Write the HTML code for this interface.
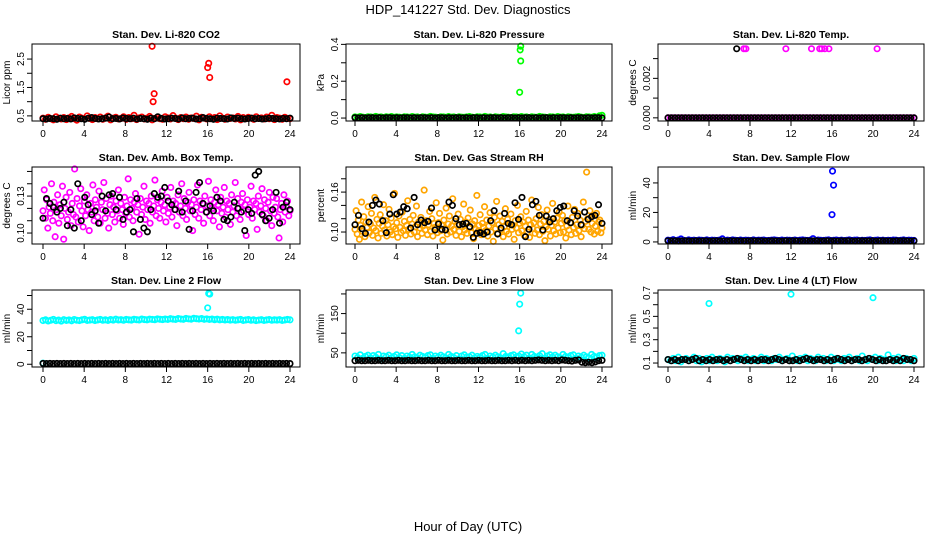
<!DOCTYPE html>
<html><head><meta charset="utf-8"><style>
body{margin:0;background:#fff}
svg{display:block;font-family:"Liberation Sans",sans-serif}
</style></head><body>
<svg id="chart" width="936" height="540" viewBox="0 0 936 540" xmlns="http://www.w3.org/2000/svg">
<text x="468" y="14" text-anchor="middle" font-size="13">HDP_141227  Std. Dev. Diagnostics</text>
<text x="468" y="531" text-anchor="middle" font-size="13">Hour of Day (UTC)</text>
</svg>
<script>
// ---- data ----
const xTicks = [0,4,8,12,16,20,24];
// P1 CO2
const co2Red = [0.42,0.38,0.45,0.40,0.36,0.47,0.41,0.39,0.44,0.37,0.43,0.48,0.40,0.35,0.46,0.42,0.39,0.50,0.41,0.37,0.44,0.40,0.46,0.38,0.43,0.49,0.36,0.42,0.45,0.39,0.41,0.47,0.38,0.44,0.40,0.52,0.37,0.43,0.46,0.39,0.42,0.48,0.36,0.41,0.45,0.40,0.38,0.47,0.43,0.39,0.51,0.42,0.37,0.44,0.40,0.46,0.38,0.43,0.41,0.49,0.36,0.45,0.42,0.39,0.47,0.40,0.44,0.37,0.50,0.42,0.38,0.46,0.41,0.43,0.39,0.48,0.36,0.44,0.40,0.45,0.42,0.38,0.47,0.41,0.43,0.39,0.46,0.40,0.52,0.37,0.44,0.42,0.38,0.45,0.41,0.40];
const co2RedOutHours = [10.6,10.8,10.7,16.0,16.1,16.2,23.7];
const co2RedOutVals = [2.95,1.28,1.0,2.2,2.35,1.85,1.7];
const co2Black = [0.40,0.39,0.41,0.40,0.38,0.42,0.40,0.41,0.39,0.43,0.41,0.40,0.38,0.42,0.44,0.41,0.39,0.40,0.42,0.46,0.40,0.41,0.39,0.43,0.41,0.40,0.42,0.39,0.41,0.40,0.38,0.42,0.40,0.47,0.41,0.39,0.40,0.42,0.41,0.39,0.43,0.40,0.41,0.42,0.39,0.40,0.44,0.41,0.40,0.38,0.42,0.41,0.40,0.39,0.43,0.41,0.42,0.40,0.39,0.41,0.42,0.40,0.41,0.39,0.40,0.42,0.41,0.40,0.39,0.41,0.40,0.42];
// P2 pressure
const presGreen = [0.006,0.004,0.008,0.005,0.003,0.007,0.006,0.004,0.009,0.005,0.006,0.003,0.007,0.005,0.008,0.004,0.006,0.005,0.003,0.007,0.006,0.004,0.008,0.005,0.006,0.003,0.007,0.005,0.004,0.009,0.006,0.005,0.003,0.007,0.006,0.004,0.008,0.005,0.006,0.003,0.007,0.005,0.004,0.006,0.008,0.005,0.003,0.007,0.006,0.004,0.009,0.005,0.006,0.003,0.007,0.005,0.004,0.008,0.006,0.005,0.003,0.007,0.006,0.004,0.008,0.005,0.006,0.003,0.007,0.005,0.004,0.009,0.006,0.005,0.003,0.007,0.006,0.004,0.008,0.005,0.006,0.003,0.007,0.005,0.004,0.006,0.008,0.005,0.003,0.007,0.006,0.004,0.008,0.005,0.012,0.015];
const presOutHours = [16.1,16.05,16.1,16.0];
const presOutVals = [0.39,0.37,0.31,0.14];
const presBlack = [0.002,0.001,0.002,0.001,0.002,0.002,0.001,0.002,0.001,0.002,0.002,0.001,0.002,0.001,0.002,0.002,0.001,0.002,0.001,0.002,0.002,0.001,0.002,0.001,0.002,0.002,0.001,0.002,0.001,0.002,0.002,0.001,0.002,0.001,0.002,0.002,0.001,0.002,0.001,0.002,0.002,0.001,0.002,0.001,0.002,0.002,0.001,0.002,0.001,0.002,0.002,0.001,0.002,0.001,0.002,0.002,0.001,0.002,0.001,0.002,0.002,0.001,0.002,0.001,0.002,0.002,0.001,0.002,0.001,0.002,0.002,0.001];
// P3 temp
const tempMag = [0,0,0,0,0,0,0,0,0,0,0,0,0,0,0,0,0,0,0,0,0,0,0,0,0,0,0,0,0,0,0,0,0,0,0,0,0,0,0,0,0,0,0,0,0,0,0,0,0,0,0,0,0,0,0,0,0,0,0,0,0,0,0,0,0,0,0,0,0,0,0,0,0,0,0,0,0,0,0,0,0,0,0,0,0,0,0,0,0,0,0,0,0,0,0,0];
const tempMagOutHours = [7.4,7.6,11.5,14.0,14.8,15.0,15.3,15.7,20.4];
const tempMagOutVals = [0.0035,0.0035,0.0035,0.0035,0.0035,0.0035,0.0035,0.0035,0.0035];
const tempBlack = [0,0,0,0,0,0,0,0,0,0,0,0,0,0,0,0,0,0,0,0,0,0,0,0,0,0,0,0,0,0,0,0,0,0,0,0,0,0,0,0,0,0,0,0,0,0,0,0,0,0,0,0,0,0,0,0,0,0,0,0,0,0,0,0,0,0,0,0,0,0,0,0];
const tempBlackOutHours = [6.7];
const tempBlackOutVals = [0.0035];
// P4 amb box temp
const ambMag = [0.118,0.135,0.112,0.127,0.104,0.121,0.116,0.140,0.110,0.125,0.097,0.119,0.131,0.108,0.123,0.114,0.138,0.095,0.120,0.129,0.111,0.117,0.133,0.106,0.124,0.115,0.152,0.113,0.128,0.109,0.122,0.136,0.118,0.105,0.126,0.114,0.131,0.119,0.102,0.124,0.117,0.139,0.110,0.127,0.121,0.113,0.134,0.108,0.125,0.119,0.141,0.112,0.128,0.116,0.104,0.123,0.130,0.115,0.121,0.109,0.126,0.118,0.135,0.112,0.124,0.119,0.107,0.129,0.116,0.122,0.144,0.113,0.127,0.120,0.110,0.125,0.132,0.117,0.123,0.099,0.128,0.115,0.121,0.138,0.111,0.126,0.119,0.124,0.108,0.130,0.117,0.122,0.143,0.114,0.127,0.120,0.112,0.125,0.134,0.118,0.123,0.109,0.129,0.116,0.121,0.137,0.113,0.126,0.119,0.124,0.106,0.131,0.117,0.122,0.140,0.114,0.128,0.120,0.111,0.125,0.133,0.118,0.123,0.102,0.127,0.115,0.121,0.139,0.112,0.126,0.119,0.124,0.108,0.130,0.117,0.122,0.142,0.114,0.127,0.120,0.110,0.125,0.135,0.118,0.123,0.105,0.129,0.116,0.121,0.137,0.113,0.126,0.119,0.124,0.107,0.131,0.117,0.122,0.141,0.114,0.128,0.120,0.111,0.125,0.132,0.118,0.123,0.098,0.127,0.115,0.121,0.138,0.112,0.126,0.119,0.124,0.103,0.130,0.117,0.122,0.136,0.114,0.127,0.120,0.110,0.125,0.133,0.118,0.106,0.129,0.116,0.121,0.128,0.113,0.096,0.119,0.124,0.109,0.131,0.117,0.122,0.126,0.114,0.118];
const ambBlack = [0.112,0.128,0.124,0.121,0.117,0.120,0.125,0.106,0.119,0.104,0.140,0.110,0.129,0.123,0.115,0.118,0.108,0.130,0.118,0.131,0.132,0.119,0.129,0.111,0.117,0.119,0.101,0.128,0.111,0.104,0.101,0.119,0.132,0.129,0.130,0.137,0.126,0.123,0.119,0.134,0.117,0.126,0.103,0.118,0.133,0.141,0.124,0.117,0.122,0.118,0.129,0.126,0.111,0.110,0.113,0.125,0.120,0.117,0.102,0.119,0.116,0.147,0.150,0.115,0.110,0.112,0.119,0.133,0.108,0.121,0.125,0.119];
// P5 gas stream RH
const rhOrange = [0.104,0.132,0.097,0.118,0.089,0.110,0.145,0.101,0.123,0.093,0.115,0.107,0.138,0.099,0.112,0.128,0.095,0.106,0.152,0.102,0.119,0.091,0.113,0.126,0.098,0.109,0.141,0.103,0.117,0.094,0.111,0.134,0.100,0.121,0.096,0.108,0.158,0.105,0.114,0.092,0.124,0.107,0.099,0.130,0.102,0.116,0.095,0.110,0.147,0.104,0.119,0.097,0.112,0.125,0.100,0.108,0.139,0.093,0.115,0.106,0.122,0.098,0.109,0.163,0.103,0.117,0.096,0.111,0.131,0.101,0.120,0.094,0.113,0.107,0.144,0.099,0.114,0.128,0.102,0.110,0.088,0.118,0.105,0.136,0.097,0.112,0.124,0.100,0.109,0.150,0.104,0.116,0.095,0.111,0.127,0.101,0.119,0.093,0.108,0.142,0.103,0.115,0.098,0.121,0.106,0.133,0.099,0.112,0.090,0.117,0.104,0.155,0.101,0.110,0.126,0.096,0.113,0.107,0.138,0.102,0.118,0.094,0.109,0.129,0.100,0.114,0.086,0.122,0.105,0.146,0.098,0.111,0.124,0.103,0.116,0.093,0.108,0.135,0.101,0.119,0.097,0.112,0.127,0.104,0.110,0.089,0.117,0.106,0.140,0.099,0.113,0.123,0.102,0.115,0.095,0.109,0.131,0.100,0.118,0.092,0.111,0.148,0.105,0.114,0.098,0.120,0.103,0.137,0.096,0.112,0.126,0.101,0.116,0.087,0.108,0.133,0.104,0.119,0.094,0.110,0.143,0.102,0.115,0.097,0.121,0.106,0.130,0.099,0.113,0.125,0.100,0.117,0.091,0.109,0.139,0.103,0.114,0.096,0.122,0.107,0.134,0.098,0.111,0.128,0.102,0.118,0.093,0.110,0.145,0.105,0.116,0.190,0.120,0.104,0.132,0.100,0.113,0.124,0.097,0.109,0.128,0.101,0.115,0.118,0.099,0.106];
const rhBlack = [0.111,0.125,0.105,0.098,0.115,0.140,0.148,0.142,0.117,0.099,0.127,0.156,0.127,0.130,0.138,0.135,0.106,0.152,0.111,0.118,0.114,0.116,0.136,0.103,0.112,0.104,0.103,0.145,0.140,0.120,0.111,0.112,0.113,0.108,0.092,0.098,0.099,0.097,0.100,0.117,0.132,0.097,0.106,0.128,0.113,0.111,0.144,0.119,0.152,0.093,0.104,0.141,0.146,0.125,0.103,0.124,0.115,0.120,0.132,0.137,0.139,0.117,0.114,0.132,0.124,0.111,0.130,0.119,0.123,0.125,0.141,0.113];
// P6 sample flow
const sampBlue = [1.2,1.0,1.5,0.9,1.3,2.0,1.1,0.8,1.4,1.0,1.2,0.9,1.3,1.1,1.0,1.4,0.9,1.2,1.1,1.0,1.3,2.1,0.9,1.2,1.0,1.4,1.1,0.9,1.3,1.0,1.2,1.1,0.9,1.4,1.0,1.2,1.1,1.3,0.9,1.0,1.2,1.4,1.1,0.9,1.3,1.0,1.2,1.1,1.0,1.3,0.9,1.2,1.4,1.1,1.0,1.2,2.2,0.9,1.3,1.1,1.0,1.2,1.4,0.9,1.1,1.3,1.0,1.2,0.9,1.1,1.4,1.0,1.2,1.3,0.9,1.1,1.0,1.2,1.4,0.9,1.1,1.3,1.0,1.2,0.9,1.1,1.0,1.3,1.2,0.9,1.1,1.4,1.0,1.2,1.1,1.0];
const sampOutHours = [16.05,16.15,16.0];
const sampOutVals = [48,38.5,18.5];
const sampBlack = [0.8,0.7,0.8,0.6,0.7,0.8,0.7,0.6,0.8,0.7,0.7,0.8,0.6,0.7,0.8,0.7,0.7,0.6,0.8,0.7,0.8,0.7,0.6,0.7,0.8,0.7,0.7,0.8,0.6,0.7,0.8,0.7,0.7,0.6,0.8,0.7,0.8,0.7,0.6,0.7,0.8,0.7,0.7,0.8,0.6,0.7,0.8,0.7,0.7,0.6,0.8,0.7,0.8,0.7,0.6,0.7,0.8,0.7,0.7,0.8,0.6,0.7,0.8,0.7,0.7,0.6,0.8,0.7,0.8,0.7,0.6,0.7];
// P7 line 2 flow
const l2Cyan = [31.8,32.3,31.5,32.0,32.6,31.7,32.1,31.4,32.4,31.9,32.2,31.6,32.5,32.0,31.8,32.3,32.7,31.9,32.1,32.4,31.8,32.2,32.6,32.0,32.3,31.9,32.5,32.1,32.8,32.2,32.4,32.0,32.6,32.3,32.1,32.7,32.4,32.2,32.9,32.5,32.3,32.8,32.6,32.4,33.0,32.7,32.5,32.9,32.6,33.1,32.8,32.6,33.2,32.9,32.7,33.3,33.0,32.8,33.4,33.1,32.9,33.2,32.7,33.0,32.6,32.9,32.4,32.8,32.3,32.6,32.2,32.5,32.1,32.4,32.0,32.3,32.6,31.9,32.2,32.5,32.0,32.3,31.8,32.1,32.4,31.9,32.2,32.5,32.0,32.3,32.1,32.4,31.9,32.2,32.6,32.3];
const l2CyanOutHours = [16.1,16.2,16.0,0.0];
const l2CyanOutVals = [51.5,51.0,41.0,0.8];
const l2Black = [0.6,0.5,0.6,0.5,0.6,0.5,0.6,0.5,0.6,0.5,0.6,0.5,0.6,0.5,0.6,0.5,0.6,0.5,0.6,0.5,0.6,0.5,0.6,0.5,0.6,0.5,0.6,0.5,0.6,0.5,0.6,0.5,0.6,0.5,0.6,0.5,0.6,0.5,0.6,0.5,0.6,0.5,0.6,0.5,0.6,0.5,0.6,0.5,0.6,0.5,0.6,0.5,0.6,0.5,0.6,0.5,0.6,0.5,0.6,0.5,0.6,0.5,0.6,0.5,0.6,0.5,0.6,0.5,0.6,0.5,0.6,0.5];
// P8 line 3 flow
const l3Cyan = [42,38,45,36,41,44,37,43,39,46,35,42,40,44,37,41,45,38,43,36,42,39,46,40,37,44,41,38,43,45,36,42,39,44,40,37,46,41,38,43,35,42,45,39,40,44,37,41,38,43,46,36,42,39,44,40,37,48,41,38,43,45,39,42,47,40,44,37,46,41,38,43,48,36,42,45,39,44,40,37,46,41,38,43,45,36,42,39,44,40,37,46,41,38,43,44];
const l3CyanOutHours = [16.1,16.0,15.9];
const l3CyanOutVals = [202,174,106];
const l3Black = [30,31,30,30,31,30,30,31,30,30,31,30,30,31,30,30,31,30,30,31,30,30,31,30,30,31,30,30,31,30,30,31,30,30,31,30,30,31,30,30,31,30,30,31,30,30,31,30,31,30,31,30,31,30,31,32,31,30,31,30,31,30,32,31,30,29,31,32,26,25,26,25,27,30,31];
// P9 line 4 flow
const l4Cyan = [0.13,0.12,0.14,0.12,0.15,0.11,0.13,0.14,0.12,0.13,0.15,0.12,0.14,0.11,0.13,0.14,0.12,0.15,0.13,0.12,0.14,0.13,0.11,0.15,0.12,0.14,0.13,0.12,0.14,0.13,0.15,0.12,0.13,0.14,0.12,0.13,0.15,0.12,0.14,0.13,0.12,0.14,0.13,0.15,0.12,0.13,0.14,0.12,0.16,0.13,0.12,0.14,0.13,0.15,0.12,0.14,0.13,0.12,0.15,0.13,0.14,0.12,0.13,0.15,0.12,0.14,0.13,0.12,0.14,0.13,0.15,0.12,0.13,0.14,0.12,0.16,0.13,0.12,0.14,0.13,0.15,0.12,0.14,0.13,0.12,0.17,0.13,0.14,0.12,0.15,0.13,0.12,0.14,0.13,0.12,0.14];
const l4CyanOutHours = [4.0,12.0,20.0];
const l4CyanOutVals = [0.61,0.69,0.66];
const l4Black = [0.13,0.12,0.13,0.12,0.13,0.13,0.12,0.13,0.14,0.12,0.13,0.12,0.13,0.12,0.13,0.13,0.12,0.13,0.12,0.13,0.14,0.13,0.12,0.13,0.12,0.13,0.12,0.13,0.13,0.12,0.13,0.14,0.13,0.12,0.13,0.12,0.12,0.13,0.12,0.13,0.14,0.13,0.12,0.13,0.13,0.12,0.13,0.12,0.13,0.14,0.13,0.12,0.13,0.12,0.13,0.13,0.12,0.13,0.14,0.13,0.12,0.13,0.12,0.12,0.13,0.12,0.13,0.12,0.14,0.13,0.13,0.12];

// ---- drawing ----
const NS = 'http://www.w3.org/2000/svg';
const svg = document.getElementById('chart');
function mk(tag, attrs, parent) {
  const e = document.createElementNS(NS, tag);
  for (const k in attrs) e.setAttribute(k, attrs[k]);
  (parent || svg).appendChild(e);
  return e;
}
const cols = [{l:32,r:300,x0:43,x24:290},{l:346,r:612,x0:355,x24:602},{l:658,r:924,x0:668,x24:914}];
const rows = [{t:44,b:121},{t:167,b:244},{t:290,b:367}];

function spread(vals){ return vals.map((v,i)=> i*24/(vals.length-1)); }

function panel(ci, ri, name, title, ytitle, ydom, yt, ytl, series, showXLabels) {
  const c = cols[ci], r = rows[ri];
  const g = mk('g', {});
  
  
  const xs = h => c.x0 + h*(c.x24-c.x0)/24;
  const ys = v => r.b - (v - ydom[0])/(ydom[1]-ydom[0])*(r.b - r.t);
  const tt = mk('text', {x:(c.l+c.r)/2, y:r.t-6, 'text-anchor':'middle', 'font-size':10.5, 'font-weight':'bold'}, g);
  tt.textContent = title;
  
  
  const yl = mk('text', {x:0, y:0, 'text-anchor':'middle', 'font-size':10, transform:`translate(${c.l-22},${(r.t+r.b)/2}) rotate(-90)`}, g);
  yl.textContent = ytitle;
  
  
  series.forEach(s => {
    const sg = mk('g', {fill:'none', stroke:s.color, 'stroke-width':1.7}, g);
    
    
    s.vals.forEach((v,i) => {
      mk('circle', {cx:xs(s.hours[i]), cy:ys(v), r:2.7}, sg);
    });
  });
  const box = mk('rect', {x:c.l, y:r.t, width:c.r-c.l, height:r.b-r.t, fill:'none', stroke:'#000', 'stroke-width':1}, g);
  
  
  const xa = mk('g', {stroke:'#000', 'stroke-width':1}, g);
  
  
  mk('line', {x1:xs(0), x2:xs(24), y1:r.b, y2:r.b}, xa);
  xTicks.forEach(t => {
    mk('line', {x1:xs(t), x2:xs(t), y1:r.b, y2:r.b+5}, xa);
    if (showXLabels) {
      const lt = mk('text', {x:xs(t), y:r.b+16, 'text-anchor':'middle', 'font-size':10, stroke:'none'}, xa);
      lt.textContent = String(t);
    }
  });
  const ya = mk('g', {stroke:'#000', 'stroke-width':1}, g);
  
  
  mk('line', {x1:c.l, x2:c.l, y1:ys(yt[0]), y2:ys(yt[yt.length-1])}, ya);
  yt.forEach((t,i) => {
    const y = ys(t);
    mk('line', {x1:c.l-5, x2:c.l, y1:y, y2:y}, ya);
    if (ytl[i]) {
      const lt = mk('text', {x:0, y:0, 'text-anchor':'middle', 'font-size':10, stroke:'none', transform:`translate(${c.l-8},${y}) rotate(-90)`}, ya);
      lt.textContent = ytl[i];
    }
  });
}
function S(name, color, vals, hours){ return {name, color, vals, hours: hours || spread(vals)}; }

panel(0,0,'panel-co2','Stan. Dev. Li-820 CO2','Licor ppm',[0.32,3.03],[0.5,1,1.5,2,2.5],['0.5','','1.5','','2.5'],
  [S('red','#ff0000',co2Red),S('red-outliers','#ff0000',co2RedOutVals,co2RedOutHours),S('black','#000',co2Black)],true);
panel(1,0,'panel-pressure','Stan. Dev. Li-820 Pressure','kPa',[-0.016,0.402],[0,0.1,0.2,0.3,0.4],['0.0','','0.2','','0.4'],
  [S('green','#00ff00',presGreen),S('green-outliers','#00ff00',presOutVals,presOutHours),S('black','#000',presBlack)],true);
panel(2,0,'panel-temp','Stan. Dev. Li-820 Temp.','degrees C',[-0.00016,0.00374],[0,0.001,0.002,0.003],['0.000','','0.002',''],
  [S('magenta','#ff00ff',tempMag),S('magenta-outliers','#ff00ff',tempMagOutVals,tempMagOutHours),S('black','#000',tempBlack),S('black-outliers','#000',tempBlackOutVals,tempBlackOutHours)],true);
panel(0,1,'panel-amb-box','Stan. Dev. Amb. Box Temp.','degrees C',[0.0911,0.1536],[0.10,0.11,0.12,0.13,0.14,0.15],['0.10','','','0.13','',''],
  [S('magenta','#ff00ff',ambMag),S('black','#000',ambBlack)],true);
panel(1,1,'panel-rh','Stan. Dev. Gas Stream RH','percent',[0.082,0.1977],[0.10,0.12,0.14,0.16,0.18],['0.10','','','0.16',''],
  [S('orange','#ffa500',rhOrange),S('black','#000',rhBlack)],true);
panel(2,1,'panel-sample-flow','Stan. Dev. Sample Flow','ml/min',[-1.4,50.8],[0,10,20,30,40],['0','','20','','40'],
  [S('blue','#0000ff',sampBlue),S('blue-outliers','#0000ff',sampOutVals,sampOutHours),S('black','#000',sampBlack)],true);
panel(0,2,'panel-line2','Stan. Dev. Line 2 Flow','ml/min',[-2,54],[0,10,20,30,40,50],['0','','20','','40',''],
  [S('cyan','#00ffff',l2Cyan),S('cyan-outliers','#00ffff',l2CyanOutVals,l2CyanOutHours),S('black','#000',l2Black)],true);
panel(1,2,'panel-line3','Stan. Dev. Line 3 Flow','ml/min',[14,210],[50,100,150,200],['50','','150',''],
  [S('cyan','#00ffff',l3Cyan),S('cyan-outliers','#00ffff',l3CyanOutVals,l3CyanOutHours),S('black','#000',l3Black)],true);
panel(2,2,'panel-line4','Stan. Dev. Line 4 (LT) Flow','ml/min',[0.066,0.726],[0.1,0.2,0.3,0.4,0.5,0.6,0.7],['0.1','','0.3','','0.5','','0.7'],
  [S('cyan','#00ffff',l4Cyan),S('cyan-outliers','#00ffff',l4CyanOutVals,l4CyanOutHours),S('black','#000',l4Black)],true);
</script>
</body></html>
